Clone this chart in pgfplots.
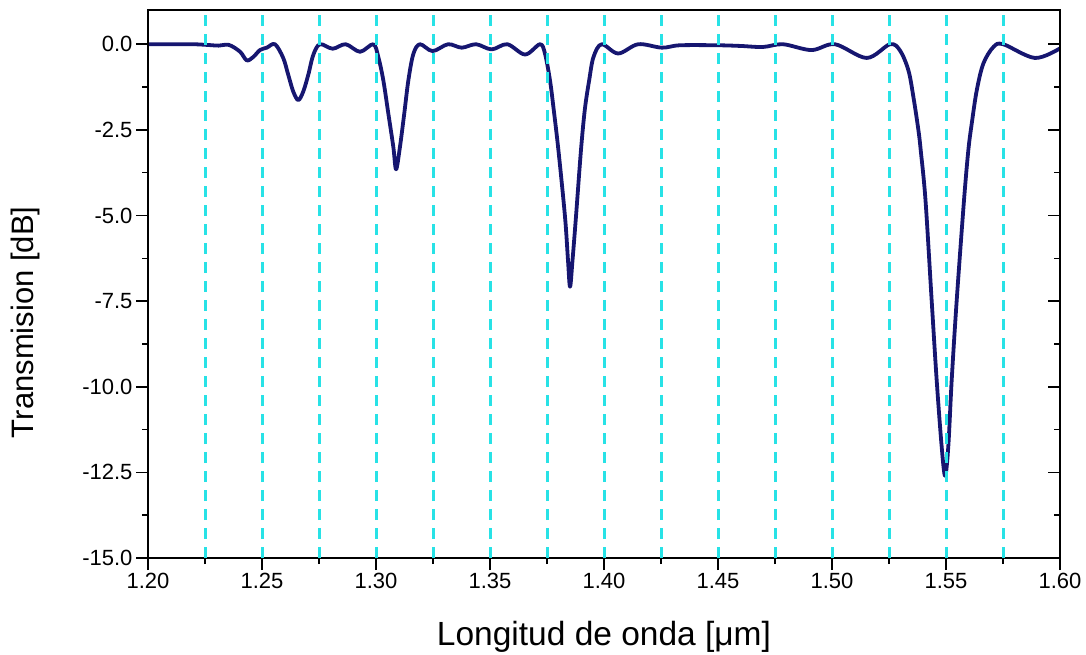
\documentclass[border=0pt]{standalone}
\usepackage{fontspec}
\setmainfont{Liberation Sans}
\usepackage{pgfplots}
\pgfplotsset{compat=1.18}

\definecolor{curve}{RGB}{22,22,112}
\definecolor{gridcyan}{RGB}{40,226,230}

\begin{document}
\begin{tikzpicture}
% shared frame geometry
\pgfplotsset{
  frame/.style={
    at={(148pt,96pt)}, anchor=south west,
    scale only axis, width=912pt, height=548pt,
    xmin=1.2, xmax=1.6, ymin=-15, ymax=1,
    axis line style={line width=1.6pt, black},
    every tick/.style={line width=1.6pt, black},
    major tick length=12pt, minor tick length=6pt,
  }
}
% main axis with the transmission spectrum
\begin{axis}[frame,
  xtick={1.20,1.25,...,1.61}, minor x tick num=1,
  ytick={-15,-12.5,...,0}, minor y tick num=1,
  xtick pos=bottom, ytick pos=left, tick align=outside,
  /pgf/number format/assume math mode=true,
  xticklabel style={/pgf/number format/.cd, fixed, fixed zerofill, precision=2},
  yticklabel style={/pgf/number format/.cd, fixed, fixed zerofill, precision=1},
  ticklabel style={font=\fontsize{22}{26}\selectfont},
  xlabel={Longitud de onda [μm]},
  ylabel={Transmision [dB]},
  xlabel style={font=\fontsize{33.5}{40}\selectfont, at={(axis description cs:0.5,-0.159)}, anchor=base},
  ylabel style={font=\fontsize{31}{37}\selectfont, at={(axis description cs:-0.1255,0.43)}, anchor=base, rotate=0},
]
\addplot[curve, line width=3.8pt, line join=round, line cap=round, smooth, tension=0.55] coordinates {
(1.2000,0.00) (1.2100,0.00) (1.2200,0.00) (1.2260,-0.02) (1.2310,-0.04)
(1.2355,-0.02) (1.2404,-0.22) (1.2433,-0.47) (1.2462,-0.37) (1.2491,-0.17)
(1.2521,-0.10) (1.2557,0.00)
(1.2593,-0.40) (1.2615,-0.89) (1.2637,-1.38) (1.2659,-1.63) (1.2681,-1.38)
(1.2703,-0.89) (1.2725,-0.31) (1.2754,0.00) (1.2810,-0.13) (1.2867,0.00)
(1.2930,-0.22) (1.2988,0.00)
(1.3010,-0.37) (1.3032,-1.05) (1.3054,-2.02) (1.3076,-3.00) (1.3088,-3.65)
(1.3105,-3.00) (1.3124,-2.02) (1.3142,-1.05) (1.3164,-0.28) (1.3193,0.00)
(1.3248,-0.20) (1.3316,0.00) (1.3376,-0.10) (1.3439,0.00) (1.3507,-0.15)
(1.3576,0.00) (1.3654,-0.30) (1.3719,0.00)
(1.3741,-0.27) (1.3763,-1.05) (1.3778,-1.83) (1.3800,-3.09) (1.3829,-5.04)
(1.3842,-6.30) (1.3851,-7.08) (1.3862,-6.30) (1.3877,-5.04) (1.3899,-3.09)
(1.3916,-1.90) (1.3935,-1.05) (1.3954,-0.37) (1.3990,0.00)
(1.4062,-0.27) (1.4150,0.00) (1.4254,-0.10) (1.4333,-0.03) (1.4500,-0.03)
(1.4600,-0.05) (1.4697,-0.08) (1.4785,0.00) (1.4910,-0.17) (1.5013,0.00)
(1.5152,-0.40) (1.5254,0.00)
(1.5298,-0.18) (1.5335,-0.76) (1.5357,-1.54) (1.5379,-2.51) (1.5389,-3.09)
(1.5410,-4.55) (1.5437,-7.47) (1.5459,-9.80) (1.5481,-11.75) (1.5496,-12.60)
(1.5510,-11.75) (1.5525,-9.80) (1.5547,-7.47) (1.5579,-4.55) (1.5598,-3.09)
(1.5613,-2.31) (1.5635,-1.34) (1.5664,-0.56) (1.5708,-0.08) (1.5751,0.00)
(1.5890,-0.40) (1.6000,-0.12)
};
\end{axis}
% dashed reference lines and inward ticks on the right edge
\begin{axis}[frame,
  xtick=\empty,
  extra x ticks={1.225,1.25,1.275,1.30,1.325,1.35,1.375,1.40,1.425,1.45,1.475,1.50,1.525,1.55,1.575},
  extra x tick style={grid=major, major tick length=0pt, xticklabel={}},
  major grid style={gridcyan, line width=3pt, dash pattern=on 11pt off 8pt},
  ytick={-15,-12.5,...,0}, minor y tick num=1,
  ytick pos=right, tick align=inside, yticklabels={},
]
\end{axis}
\pgfresetboundingbox
\path (0,0) rectangle (1086pt,654pt);
\end{tikzpicture}
\end{document}
